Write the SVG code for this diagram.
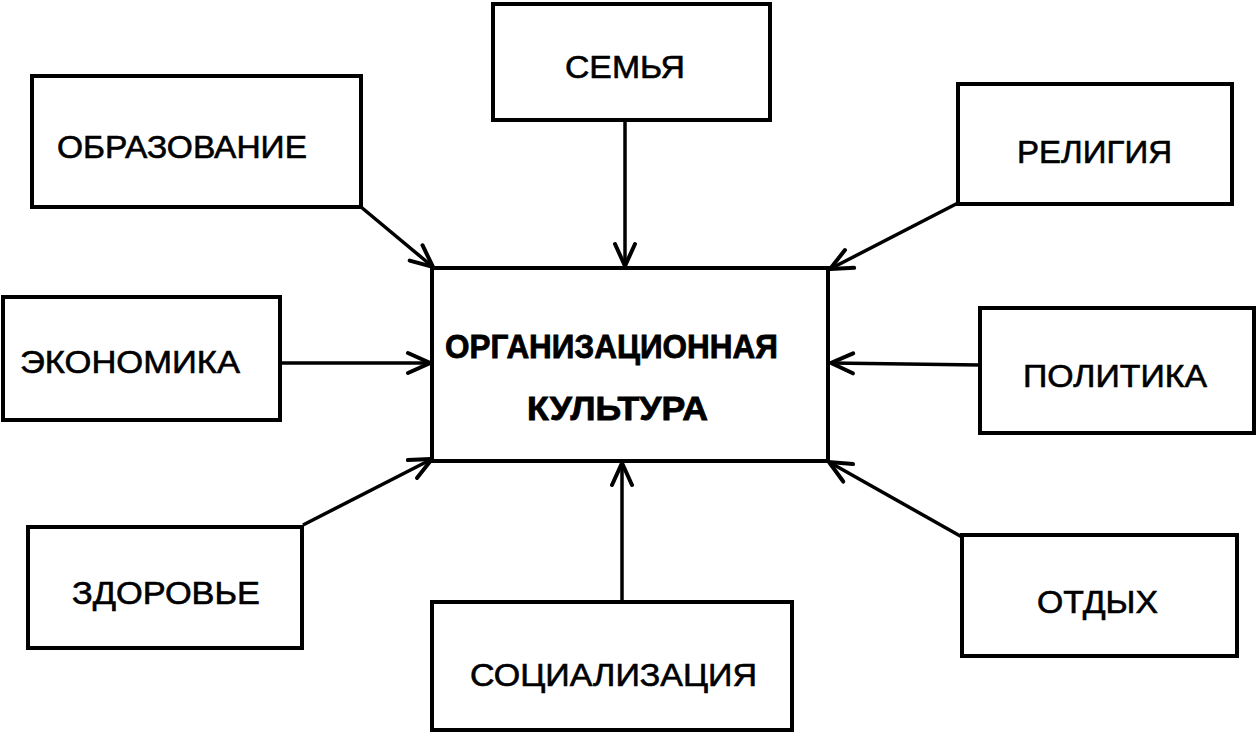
<svg xmlns="http://www.w3.org/2000/svg" width="1260" height="740" viewBox="0 0 1260 740">
<defs>
<style>
.box{fill:#fff;stroke:#000;stroke-width:4}
.lbl{font-family:"Liberation Sans",Arial,sans-serif;font-size:31px;fill:#000;stroke:#000;stroke-width:0.6}
.main{font-family:"Liberation Sans",Arial,sans-serif;font-size:33px;font-weight:bold;fill:#000;stroke:#000;stroke-width:0.8}
.con{stroke:#000;stroke-width:3.5;fill:none}
</style>
<marker id="ah" markerUnits="userSpaceOnUse" markerWidth="30" markerHeight="30" viewBox="-26 -15 30 30" refX="0" refY="0" orient="auto">
<path d="M-22,-10 L0,0 L-22,10" fill="none" stroke="#000" stroke-width="4" stroke-linecap="round" stroke-linejoin="miter"/>
</marker>
</defs>
<rect width="1260" height="740" fill="#fff"/>
<g id="connectors">
<line class="con" x1="361" y1="207" x2="433" y2="267" marker-end="url(#ah)"/>
<line class="con" x1="625" y1="122" x2="625" y2="266" marker-end="url(#ah)"/>
<line class="con" x1="958" y1="203" x2="830" y2="269" marker-end="url(#ah)"/>
<line class="con" x1="282" y1="363" x2="430" y2="363" marker-end="url(#ah)"/>
<line class="con" x1="980" y1="365" x2="831" y2="363" marker-end="url(#ah)"/>
<line class="con" x1="303" y1="525" x2="432" y2="459" marker-end="url(#ah)"/>
<line class="con" x1="622" y1="602" x2="622" y2="463" marker-end="url(#ah)"/>
<line class="con" x1="962" y1="537" x2="829" y2="462" marker-end="url(#ah)"/>
</g>
<g id="center">
<rect class="box" x="432" y="268" width="396" height="193"/>
<text class="main" x="445" y="358" textLength="333" lengthAdjust="spacingAndGlyphs">ОРГАНИЗАЦИОННАЯ</text>
<text class="main" x="527" y="420" textLength="181" lengthAdjust="spacingAndGlyphs">КУЛЬТУРА</text>
</g>
<g id="semya">
<rect class="box" x="493" y="4" width="277" height="116"/>
<text class="lbl" x="565" y="78" textLength="120" lengthAdjust="spacingAndGlyphs">СЕМЬЯ</text>
</g>
<g id="obrazovanie">
<rect class="box" x="32" y="76" width="329" height="131"/>
<text class="lbl" x="57" y="158" textLength="250" lengthAdjust="spacingAndGlyphs">ОБРАЗОВАНИЕ</text>
</g>
<g id="religiya">
<rect class="box" x="958" y="84" width="274" height="120"/>
<text class="lbl" x="1017" y="163" textLength="155" lengthAdjust="spacingAndGlyphs">РЕЛИГИЯ</text>
</g>
<g id="ekonomika">
<rect class="box" x="3" y="297" width="277" height="123"/>
<text class="lbl" x="20" y="373" textLength="220" lengthAdjust="spacingAndGlyphs">ЭКОНОМИКА</text>
</g>
<g id="politika">
<rect class="box" x="980" y="308" width="274" height="125"/>
<text class="lbl" x="1023" y="387" textLength="184" lengthAdjust="spacingAndGlyphs">ПОЛИТИКА</text>
</g>
<g id="zdorovye">
<rect class="box" x="28" y="527" width="274" height="121"/>
<text class="lbl" x="72" y="604" textLength="188" lengthAdjust="spacingAndGlyphs">ЗДОРОВЬЕ</text>
</g>
<g id="socializaciya">
<rect class="box" x="432" y="602" width="360" height="128"/>
<text class="lbl" x="470" y="686" textLength="287" lengthAdjust="spacingAndGlyphs">СОЦИАЛИЗАЦИЯ</text>
</g>
<g id="otdyh">
<rect class="box" x="962" y="535" width="275" height="121"/>
<text class="lbl" x="1037" y="613" textLength="121" lengthAdjust="spacingAndGlyphs">ОТДЫХ</text>
</g>
</svg>
